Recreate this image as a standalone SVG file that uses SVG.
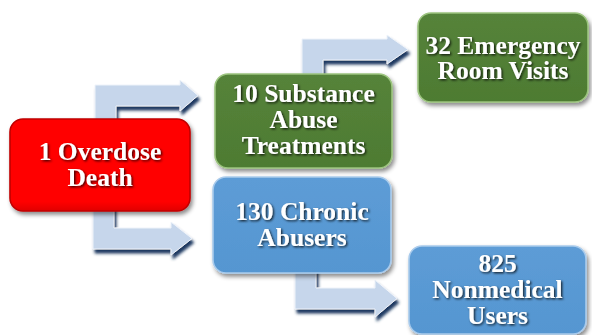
<svg xmlns="http://www.w3.org/2000/svg" width="592" height="335" viewBox="0 0 592 335">
  <defs>
    <filter id="boxShadow" x="-10%" y="-10%" width="130%" height="130%">
      <feDropShadow dx="2" dy="3" stdDeviation="2" flood-color="#000" flood-opacity="0.45"/>
    </filter>
    <filter id="arrowShadow" x="-10%" y="-10%" width="130%" height="130%">
      <feDropShadow dx="2" dy="4" stdDeviation="1.8" flood-color="#1d3961" flood-opacity="1"/>
    </filter>
    <filter id="textShadow" x="-10%" y="-20%" width="130%" height="150%">
      <feDropShadow dx="1.3" dy="1.3" stdDeviation="0.9" flood-color="#000" flood-opacity="0.8"/>
    </filter>
    <linearGradient id="redFill" x1="0" y1="0" x2="0" y2="1">
      <stop offset="0" stop-color="#ff0505"/>
      <stop offset="0.9" stop-color="#ff0000"/>
      <stop offset="1" stop-color="#e00000"/>
    </linearGradient>
    <linearGradient id="greenFill" x1="0" y1="0" x2="0" y2="1">
      <stop offset="0" stop-color="#55833a"/>
      <stop offset="1" stop-color="#4e7b32"/>
    </linearGradient>
    <linearGradient id="blueFill" x1="0" y1="0" x2="0" y2="1">
      <stop offset="0" stop-color="#5d9cd6"/>
      <stop offset="1" stop-color="#5596d1"/>
    </linearGradient>
  </defs>
  <style>
    .arrow { fill: #c6d6eb; stroke: #eef3fa; stroke-width: 1; filter: url(#arrowShadow); }
    .box { filter: url(#boxShadow); stroke-width: 1.6; }
    .red { fill: url(#redFill); stroke: #c00000; }
    .green { fill: url(#greenFill); stroke: #9cc47f; }
    .blue { fill: url(#blueFill); stroke: #a9cbec; }
    .label { font-family: "Liberation Serif", "Times New Roman", serif; font-weight: bold; font-size: 25.5px; fill: #ffffff; text-anchor: middle; filter: url(#textShadow); }
  </style>

  <!-- bent connector arrows -->
  <g id="connectors">
    <path class="arrow" d="M95,125 L95,85 L180,85 L180,80 L198,95.5 L180,111 L180,106 L116,106 L116,125 Z"/>
    <path class="arrow" d="M93,205 L93,249 L171,249 L171,255 L192,238.5 L171,222 L171,228 L114,228 L114,205 Z"/>
    <path class="arrow" d="M302,80 L302,39 L387,39 L387,35 L408,49.5 L387,64 L387,60 L323,60 L323,80 Z"/>
    <path class="arrow" d="M295,268 L295,309 L375,309 L375,317 L397,298.5 L375,280 L375,288 L316,288 L316,268 Z"/>
  </g>

  <g id="overdose-death">
    <rect class="box red" x="10" y="119" width="180" height="92" rx="13"/>
    <text class="label" x="100" y="160">1 Overdose</text>
    <text class="label" x="100" y="186">Death</text>
  </g>

  <g id="substance-abuse-treatments">
    <rect class="box green" x="215" y="74" width="177" height="94" rx="13"/>
    <text class="label" x="303.5" y="102">10 Substance</text>
    <text class="label" x="303.5" y="128">Abuse</text>
    <text class="label" x="303.5" y="154">Treatments</text>
  </g>

  <g id="emergency-room-visits">
    <rect class="box green" x="418" y="13" width="170" height="89" rx="13"/>
    <text class="label" x="503" y="54">32 Emergency</text>
    <text class="label" x="503" y="79">Room Visits</text>
  </g>

  <g id="chronic-abusers">
    <rect class="box blue" x="213" y="177" width="178" height="96" rx="13"/>
    <text class="label" x="302" y="220">130 Chronic</text>
    <text class="label" x="302" y="246">Abusers</text>
  </g>

  <g id="nonmedical-users">
    <rect class="box blue" x="409" y="246" width="177" height="88" rx="13"/>
    <text class="label" x="497.5" y="272">825</text>
    <text class="label" x="497.5" y="298">Nonmedical</text>
    <text class="label" x="497.5" y="324">Users</text>
  </g>
</svg>
